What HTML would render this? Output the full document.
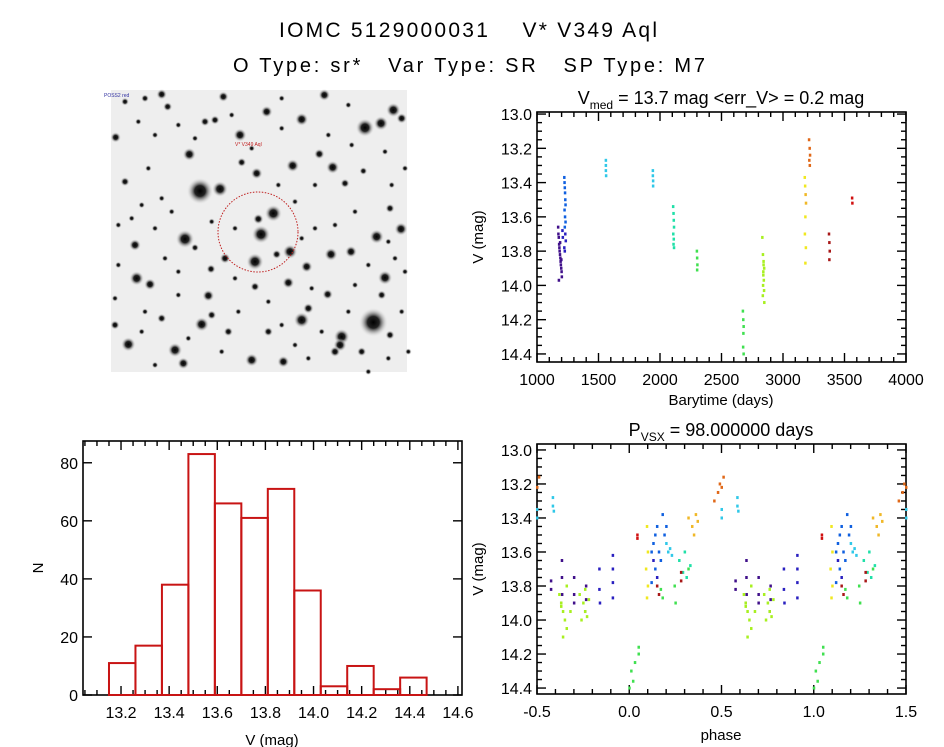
<!DOCTYPE html>
<html><head><meta charset="utf-8"><style>
html,body{margin:0;padding:0;background:#fff;}
svg{display:block;font-family:"Liberation Sans",sans-serif;}
</style></head><body>
<svg id="s" width="944" height="747" viewBox="0 0 944 747">
<text x="468" y="37" font-size="21" text-anchor="middle" textLength="378" lengthAdjust="spacing" style="white-space:pre">IOMC 5129000031    V* V349 Aql</text>
<text x="469" y="72" font-size="20" text-anchor="middle" textLength="472" lengthAdjust="spacing" style="white-space:pre">O Type: sr*   Var Type: SR   SP Type: M7</text>
<g id="img"></g>
<g id="lc"></g>
<g id="hist"></g>
<g id="ph"></g>
</svg>
<script>
const NS="http://www.w3.org/2000/svg";
const colors=["#40108a","#2a20c0","#1060e0","#30c8e8","#20e0a8","#40e050","#a8f020","#f0e820","#f0b828","#e06818","#a81818","#d01010"];
// light curve data
const lcTime=[1170,1172,1175,1178,1180,1182,1185,1188,1190,1192,1195,1198,1200,1176,1186,1196,1205,1208,
1220,1222,1224,1226,1228,1230,1222,1226,1230,1224,1228,1232,1220,1224,
1558,1558,1558,1560,1940,1940,1942,1942,
2105,2108,2110,2112,2106,2110,2108,2112,
2298,2300,2302,2300,
2672,2675,2678,2676,2674,2678,
2830,2835,2840,2845,2838,2842,2836,2844,2840,2838,2834,2846,
3175,3178,3182,3185,3180,3176,3184,3180,
3210,3215,3218,3212,3216,
3372,3375,3378,3375,3560,3562];
const lcMag=[13.66,13.7,13.72,13.76,13.78,13.8,13.82,13.84,13.86,13.88,13.9,13.92,13.95,13.97,13.75,13.85,13.68,13.72,
13.37,13.4,13.43,13.46,13.5,13.53,13.56,13.6,13.63,13.66,13.7,13.74,13.78,13.8,
13.27,13.3,13.33,13.36,13.33,13.36,13.39,13.42,
13.54,13.58,13.62,13.66,13.7,13.73,13.76,13.78,
13.8,13.84,13.88,13.91,
14.15,14.2,14.24,14.28,14.36,14.4,
13.72,13.82,13.86,13.9,13.94,13.97,14.0,14.03,13.88,13.92,14.06,14.1,
13.37,13.42,13.47,13.52,13.6,13.7,13.78,13.87,
13.15,13.2,13.24,13.27,13.3,
13.7,13.75,13.8,13.85,13.49,13.52];
const lcColor=[0,0,0,0,0,0,0,0,0,0,0,0,0,0,0,0,1,1,
2,2,2,2,2,2,2,2,2,2,1,1,1,1,
3,3,3,3,3,3,3,3,
4,4,4,4,4,4,4,4,
5,5,5,5,
5,5,5,5,5,5,
6,6,6,6,6,6,6,6,6,6,6,6,
7,7,8,8,7,7,7,7,
9,9,9,9,9,
10,10,10,10,11,11];
const lcXTicks=[1000,1500,2000,2500,3000,3500,4000];
const magTicks=[13.0,13.2,13.4,13.6,13.8,14.0,14.2,14.4];
// histogram data
const binStart=[13.15,13.26,13.37,13.48,13.59,13.70,13.81,13.92,14.03,14.14,14.25,14.36];
const binWidth=0.11;
const binCount=[11,17,38,83,66,61,71,36,3,10,2,6];
const histXTicks=[13.2,13.4,13.6,13.8,14.0,14.2,14.4,14.6];
const histYTicks=[0,20,40,60,80];
// phase data
const phPhase=[0.0,0.01,0.03,0.05,0.05,0.02,0.043,0.043,
0.095,0.1,0.09,0.1,0.095,
0.12,0.13,0.14,0.15,0.16,0.14,0.12,0.18,0.2,0.19,0.17,0.15,0.13,
0.15,0.16,0.17,0.18,
0.2,0.21,0.23,0.22,0.245,0.25,
0.27,0.29,0.31,0.32,0.33,0.3,0.28,0.28,
0.32,0.34,0.36,0.37,0.35,
0.46,0.48,0.49,0.5,0.5,0.5,0.51,0.585,0.585,0.59,
0.575,0.575,0.634,0.634,0.635,0.63,0.7,0.7,0.7,0.765,0.765,0.76,0.837,0.837,0.84,0.91,0.91,0.91,0.91,
0.62,0.63,0.64,0.65,0.66,0.64,0.63,0.73,0.75,0.76,0.77,0.78,0.74,0.76,0.68,0.66];
const phMag=[14.4,14.3,14.25,14.2,14.16,14.36,13.5,13.52,
13.45,13.6,13.7,13.8,13.87,
13.6,13.55,13.5,13.45,13.6,13.7,13.78,13.38,13.45,13.5,13.65,13.75,13.65,
13.8,13.85,13.82,13.87,
13.55,13.6,13.62,13.58,13.8,13.9,
13.65,13.72,13.75,13.7,13.68,13.6,13.72,13.77,
13.4,13.45,13.38,13.42,13.5,
13.3,13.25,13.2,13.22,13.35,13.4,13.16,13.28,13.33,13.36,
13.77,13.82,13.65,13.75,13.85,13.9,13.75,13.85,13.9,13.8,13.88,13.95,13.7,13.82,13.9,13.62,13.7,13.78,13.87,
13.85,13.9,13.95,14.0,14.05,14.1,13.92,13.85,13.9,13.95,13.98,13.88,14.0,13.82,13.95,13.8];
const phColor=[5,5,5,5,5,5,11,11,
7,7,7,7,7,
2,2,2,2,2,2,2,2,2,2,2,1,1,
10,10,5,5,
3,3,3,3,5,5,
4,4,4,5,4,4,10,10,
8,8,8,8,8,
9,9,9,9,3,3,9,3,3,3,
0,0,0,0,0,0,0,0,0,0,0,0,1,1,1,1,1,1,1,
6,6,6,6,6,6,6,6,6,6,6,6,6,6,6,6];
const phXTicks=[-0.5,0.0,0.5,1.0,1.5];

function mk(tag,attrs,parent,txt){const e=document.createElementNS(NS,tag);for(const k in attrs)e.setAttribute(k,attrs[k]);if(txt!==undefined)e.textContent=txt;parent.appendChild(e);return e;}

// star field
const img=document.getElementById('img');
mk('rect',{x:111,y:90,width:296,height:282,fill:"#eeeeee"},img);
const stars=[[315,318,20],[375,312,12],[270,462,14],[498,448,14],[535,385,13],[480,530,13],[585,500,11],[490,402,8],[810,128,14],[858,115,11],[895,75,11],[920,100,8],[620,103,10],[515,80,9],[688,30,9],[435,150,10],[283,208,10],[593,242,10],[713,247,10],[673,207,8],[485,265,9],[440,232,7],[385,35,8],[200,28,8],[62,157,8],[90,290,7],[120,480,9],[125,580,11],[165,598,9],[340,632,9],[320,718,11],[240,795,11],[265,835,9],[100,778,11],[60,720,7],[835,712,22],[870,578,11],[845,455,11],[918,432,10],[768,500,9],[708,508,10],[740,755,12],[735,780,10],[620,705,12],[635,545,9],[580,593,9],[698,628,8],[545,508,7],[348,552,7],[300,488,6],[390,520,8],[480,605,7],[470,825,10],[565,830,9],[720,800,8],[800,800,7],[885,750,7],[640,670,8],[860,630,7],[885,370,7],[750,295,7],[805,258,6],[218,65,7],[90,50,6],[150,40,6],[330,110,7],[360,105,7],[520,740,7],[400,740,7],[350,690,7],[200,700,7],[180,150,5],[230,380,5],[250,560,5],[420,430,5],[660,430,5],[780,380,5],[700,150,5],[560,130,5],[150,680,5],[430,680,5],[600,780,5],[820,540,5],[900,520,5],[110,400,5],[60,640,5],[300,160,5],[470,190,5],[770,180,5],[890,300,5],[600,350,5],[160,250,5],[640,820,5],[820,860,5],[130,110,5],[250,120,5],[410,90,5],[560,40,5],[760,60,5],[870,200,5],[930,250,5],[660,300,5],[550,300,5],[200,340,5],[140,360,5],[70,420,5],[180,430,5],[350,410,5],[620,460,5],[720,420,5],[880,470,5],[930,560,5],[780,600,5],[650,610,5],[420,580,5],[210,520,5],[70,540,5],[250,630,5],[520,650,5],[760,680,5],[920,680,5],[140,740,5],[280,760,5],[560,720,5],[680,740,5],[880,820,5],[380,800,5],[180,840,5],[940,800,5]];
const defs=mk('defs',{},img);
const rg=mk('radialGradient',{id:"sg"},defs);
mk('stop',{offset:"0",'stop-color':"#000"},rg);mk('stop',{offset:"0.4",'stop-color':"#222"},rg);mk('stop',{offset:"1",'stop-color':"#eeeeee",'stop-opacity':"0"},rg);
stars.forEach(s=>{const c=mk('circle',{cx:95+s[0]/3,cy:85+s[1]/3,r:s[2]/3*2,fill:"url(#sg)"},img);

});
mk('circle',{cx:258,cy:232,r:40,fill:"none",stroke:"#c02020","stroke-width":1,"stroke-dasharray":"1.5 1.5"},img);
mk('text',{x:235,y:146,'font-size':5,fill:"#c02020"},img,"V* V349 Aql");
mk('text',{x:104,y:97,'font-size':5,fill:"#3030a0"},img,"POSS2 red");

// generic axes
function axes(g,x0,x1,y0,y1,xt,xmin,xmax,xminor,yt,ymin,ymax,yminor,xfmt,yfmt){
  mk('rect',{x:x0,y:y0,width:x1-x0,height:y1-y0,fill:"none",stroke:"#000","stroke-width":1.6},g);
  const X=v=>x0+(v-xmin)/(xmax-xmin)*(x1-x0);
  const Y=v=>y0+(v-ymin)/(ymax-ymin)*(y1-y0);
  for(let v=Math.ceil(xmin/xminor-1e-6)*xminor;v<=xmax+1e-9;v+=xminor){const px=X(v);
    const maj=xt.some(t=>Math.abs(t-v)<1e-6);const L=maj?9:5;
    mk('line',{x1:px,x2:px,y1:y1,y2:y1-L,stroke:"#000","stroke-width":1.4},g);
    mk('line',{x1:px,x2:px,y1:y0,y2:y0+L,stroke:"#000","stroke-width":1.4},g);}
  xt.forEach(t=>{const e=mk('text',{x:X(t),y:y1+23,'font-size':16,'text-anchor':"middle"},g,xfmt(t));
    
    });
  if(yminor){for(let v=Math.ceil(ymin/yminor-1e-6)*yminor;v<=ymax+1e-9;v+=yminor){const py=Y(v);
    const maj=yt.some(t=>Math.abs(t-v)<1e-6);const L=maj?9:5;
    mk('line',{x1:x0,x2:x0+L,y1:py,y2:py,stroke:"#000","stroke-width":1.4},g);
    mk('line',{x1:x1,x2:x1-L,y1:py,y2:py,stroke:"#000","stroke-width":1.4},g);}}
  else{yt.forEach(t=>{const py=Y(t);mk('line',{x1:x0,x2:x0+9,y1:py,y2:py,stroke:"#000","stroke-width":1.4},g);mk('line',{x1:x1,x2:x1-9,y1:py,y2:py,stroke:"#000","stroke-width":1.4},g);});}
  yt.forEach(t=>{const e=mk('text',{x:x0-5,y:Y(t)+6,'font-size':16,'text-anchor':"end"},g,yfmt(t));
    
    });
  return [X,Y];
}
const f1=v=>v.toFixed(1);
// light curve
const lc=document.getElementById('lc');
const [lX,lY]=axes(lc,537,906,112,362,lcXTicks,1000,4000,100,magTicks,12.988,14.447,0.05,v=>String(v),f1);
lcTime.forEach((t,i)=>{const r=mk('rect',{x:lX(t)-1,y:lY(lcMag[i])-1.5,width:2.5,height:3,fill:colors[lcColor[i]]},lc);
  
  });
const lt=mk('text',{x:721,y:104,'font-size':18,'text-anchor':"middle"},lc);


lt.innerHTML='V<tspan font-size="12" dy="5">med</tspan><tspan dy="-5"> = 13.7 mag &lt;err_V&gt; = 0.2 mag</tspan>';
mk('text',{x:721,y:405,'font-size':15,'text-anchor':"middle"},lc,"Barytime (days)");
mk('text',{x:0,y:0,'font-size':15,'text-anchor':"middle",transform:"translate(483,237) rotate(-90)"},lc,"V (mag)");
// histogram
const h=document.getElementById('hist');
const [hX,hY]=axes(h,83,462,441,695,histXTicks,13.042,14.617,0.05,histYTicks,87.5,0,0,f1,v=>String(v));
binStart.forEach((b,i)=>{const r=mk('rect',{x:hX(b),y:hY(binCount[i]),width:hX(b+binWidth)-hX(b),height:hY(0)-hY(binCount[i]),fill:"none",stroke:"#c81414","stroke-width":2},h);
  
  });
mk('text',{x:272,y:745,'font-size':15,'text-anchor':"middle"},h,"V (mag)");
mk('text',{x:0,y:0,'font-size':15,'text-anchor':"middle",transform:"translate(43,568) rotate(-90)"},h,"N");
// phase
const p=document.getElementById('ph');
const [pX,pY]=axes(p,537,906,444,694,phXTicks,-0.5,1.5,0.1,magTicks,12.965,14.435,0.05,f1,f1);
phPhase.forEach((ph,i)=>{[-1,0,1].forEach(k=>{const v=ph+k;if(v<-0.5||v>1.5)return;
  const r=mk('rect',{x:pX(v)-1,y:pY(phMag[i])-1.5,width:2.5,height:3,fill:colors[phColor[i]]},p);
  
  });});
const pt=mk('text',{x:721,y:436,'font-size':18,'text-anchor':"middle"},p);


pt.innerHTML='P<tspan font-size="12" dy="5">VSX</tspan><tspan dy="-5"> = 98.000000 days</tspan>';
mk('text',{x:721,y:740,'font-size':15,'text-anchor':"middle"},p,"phase");
mk('text',{x:0,y:0,'font-size':15,'text-anchor':"middle",transform:"translate(483,569) rotate(-90)"},p,"V (mag)");
</script>
</body></html>
